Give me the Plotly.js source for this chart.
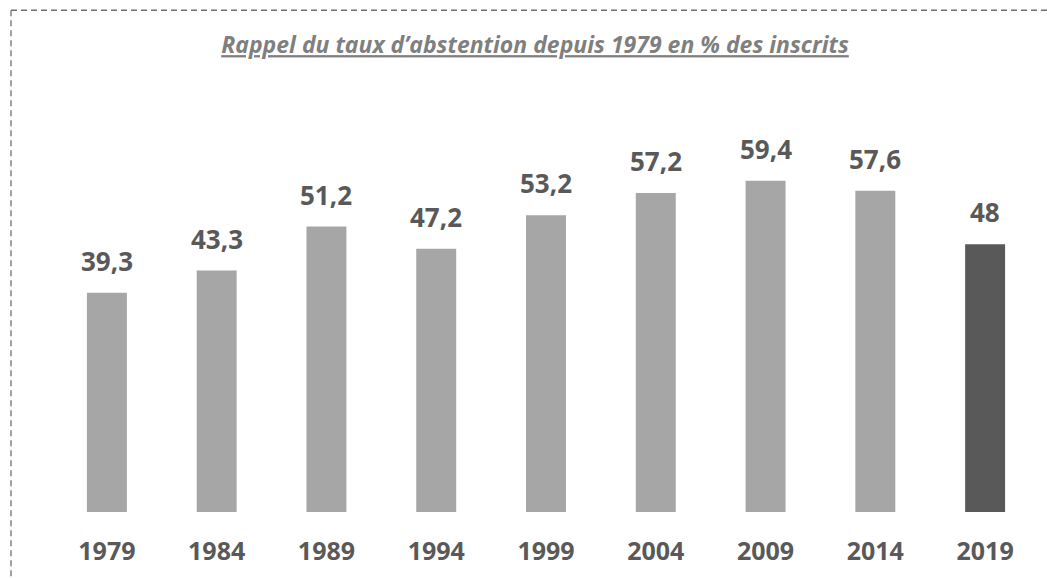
<!DOCTYPE html>
<html>
<head>
<meta charset="utf-8">
<script src="https://cdn.plot.ly/plotly-3.0.1.min.js"></script>
<style>
  html, body { margin: 0; padding: 0; background: #ffffff; }
  #chart { width: 1047px; height: 578px; }
</style>
</head>
<body>
<div id="chart"></div>
<script>
var years = ['1979', '1984', '1989', '1994', '1999', '2004', '2009', '2014', '2019'];
var abstention = [39.3, 43.3, 51.2, 47.2, 53.2, 57.2, 59.4, 57.6, 48];
var barColors = ['#a6a6a6', '#a6a6a6', '#a6a6a6', '#a6a6a6', '#a6a6a6', '#a6a6a6', '#a6a6a6', '#a6a6a6', '#595959'];
var titleText = 'Rappel du taux d\u2019abstention depuis 1979 en % des inscrits';

var labels = abstention.map(function (v) { return String(v).replace('.', ','); });

var trace = {
  type: 'bar',
  x: years,
  y: abstention,
  marker: { color: barColors, line: { width: 0 } },
  hoverinfo: 'none'
};

var annotations = [];
for (var i = 0; i < years.length; i++) {
  annotations.push({
    xref: 'x', yref: 'y',
    x: i, y: abstention[i],
    text: '<b>' + labels[i] + '</b>',
    showarrow: false,
    xanchor: 'center',
    yanchor: 'bottom',
    yshift: 12,
    font: { family: 'Open Sans, sans-serif', size: 26, color: '#595959' }
  });
}

var layout = {
  width: 1047,
  height: 578,
  margin: { l: 52, r: 7, t: 90, b: 66 },
  paper_bgcolor: '#ffffff',
  plot_bgcolor: '#ffffff',
  showlegend: false,
  bargap: 0.636,
  title: {
    text: '<i><b><u>' + titleText + '</u></b></i>',
    font: { family: 'Open Sans, sans-serif', size: 23, color: '#7f7f7f' },
    xref: 'container', x: 0.511, xanchor: 'center',
    yref: 'container', y: 0.922, yanchor: 'middle'
  },
  xaxis: {
    type: 'category',
    range: [-0.5, 8.5],
    showgrid: false, zeroline: false, showline: false,
    ticks: '',
    ticklabelstandoff: 22,
    tickfont: { family: 'Open Sans, sans-serif', size: 25, color: '#595959', weight: 'bold' },
    fixedrange: true
  },
  yaxis: {
    range: [0, 75.68],
    showgrid: false, zeroline: false, showline: false,
    showticklabels: false, ticks: '',
    fixedrange: true
  },
  annotations: annotations,
  shapes: [
    { type: 'line', xref: 'paper', yref: 'paper',
      x0: -0.0415, x1: 1.02, y0: 1.189, y1: 1.189,
      line: { color: '#6f6f6f', width: 1.3, dash: '6px,4px' } },
    { type: 'line', xref: 'paper', yref: 'paper',
      x0: -0.0415, x1: -0.0415, y0: 1.189, y1: -0.2,
      line: { color: '#6f6f6f', width: 1.3, dash: '6px,4px' } }
  ]
};

Plotly.newPlot('chart', [trace], layout, { displayModeBar: false });
</script>
</body>
</html>
